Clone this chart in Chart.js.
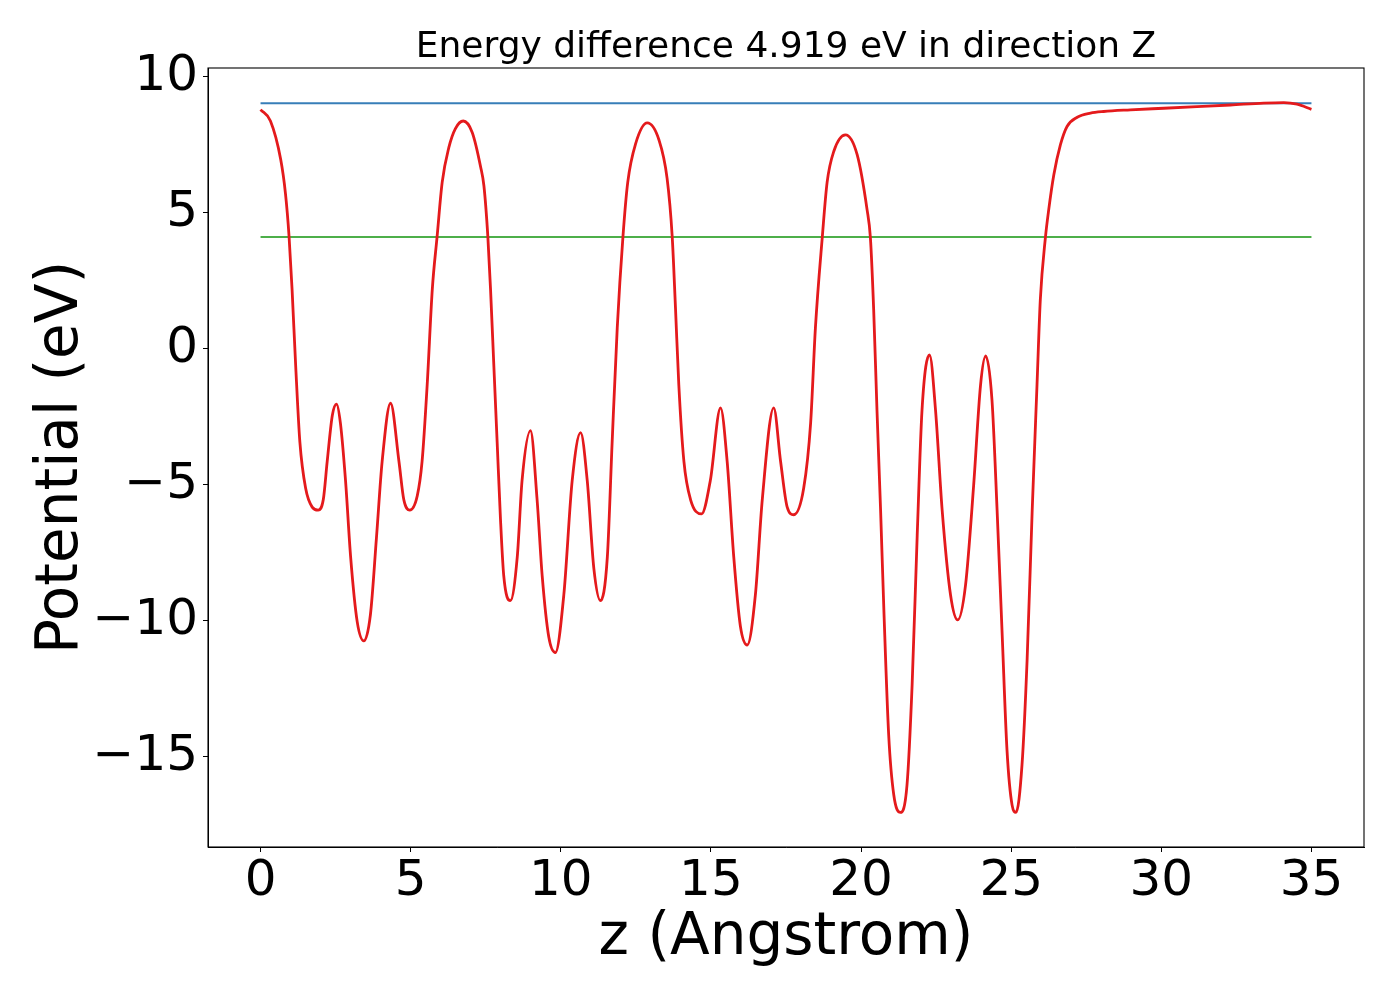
<!DOCTYPE html>
<html>
<head>
<meta charset="utf-8">
<script src="https://cdn.jsdelivr.net/npm/chart.js@4"></script>
<style>
  body { margin: 0; background: #fff; }
  canvas { display: block; }
</style>
</head>
<body>
<canvas id="potChart" width="1400" height="1000"></canvas>
<script>
// z positions (Angstrom) and the averaged potential (eV)
var zAngstrom = [0.00, 0.33, 0.67, 0.83, 0.95, 1.05, 1.17, 1.31, 1.50, 1.72, 1.92, 2.09, 2.22, 2.39, 2.53, 2.66, 2.83, 3.00, 3.22, 3.44, 3.66, 3.86, 4.05, 4.33, 4.61, 4.77, 4.97, 5.22, 5.38, 5.55, 5.72, 5.88, 6.05, 6.27, 6.49, 6.75, 7.05, 7.33, 7.44, 7.57, 7.66, 7.77, 7.88, 7.99, 8.10, 8.32, 8.55, 8.71, 8.99, 9.21, 9.38, 9.60, 9.82, 10.10, 10.38, 10.66, 10.88, 11.10, 11.32, 11.55, 11.71, 11.88, 12.07, 12.23, 12.49, 12.88, 13.27, 13.54, 13.71, 13.82, 13.93, 14.10, 14.32, 14.69, 14.98, 15.32, 15.54, 15.76, 15.98, 16.21, 16.48, 16.71, 17.09, 17.32, 17.54, 17.76, 18.09, 18.32, 18.48, 18.71, 18.87, 19.09, 19.48, 19.87, 20.20, 20.31, 20.42, 20.53, 20.65, 20.76, 20.92, 21.09, 21.31, 21.53, 21.70, 21.87, 22.03, 22.28, 22.48, 22.70, 22.98, 23.22, 23.48, 23.75, 23.98, 24.15, 24.36, 24.53, 24.70, 24.86, 25.03, 25.16, 25.36, 25.53, 25.70, 25.86, 25.97, 26.14, 26.25, 26.42, 26.64, 26.86, 27.20, 27.64, 28.08, 28.97, 30.08, 31.19, 32.30, 33.41, 34.08, 34.52, 35.00];
var potentialEV = [8.80, 8.38, 6.97, 5.71, 4.13, 2.19, -0.62, -3.43, -5.12, -5.82, -5.93, -5.54, -4.14, -2.45, -2.03, -2.73, -4.84, -7.65, -10.04, -10.74, -9.77, -6.95, -4.14, -2.00, -4.14, -5.54, -5.93, -5.40, -4.14, -1.32, 2.19, 4.13, 6.13, 7.40, 8.10, 8.38, 7.96, 6.69, 5.99, 4.13, 2.19, -0.62, -3.43, -6.24, -8.35, -9.26, -7.65, -4.84, -3.01, -5.54, -8.35, -10.60, -11.17, -9.05, -4.84, -3.08, -4.84, -8.07, -9.26, -7.65, -3.43, 0.78, 4.13, 6.13, 7.54, 8.31, 7.68, 6.27, 4.13, 1.49, -1.32, -4.14, -5.54, -6.07, -4.84, -2.17, -4.14, -7.65, -10.19, -10.89, -9.05, -5.54, -2.17, -4.14, -5.82, -6.10, -5.12, -2.73, 0.78, 4.13, 6.13, 7.26, 7.87, 7.14, 5.12, 4.10, 1.44, -2.25, -5.92, -9.61, -14.20, -16.41, -17.05, -16.04, -12.37, -6.85, -2.25, -0.22, -2.25, -5.92, -9.05, -9.97, -8.68, -5.01, -1.32, -0.26, -1.88, -5.92, -10.52, -14.75, -16.78, -17.05, -15.30, -11.44, -5.92, -1.32, 1.81, 4.10, 5.12, 6.40, 7.51, 8.18, 8.52, 8.67, 8.73, 8.79, 8.85, 8.91, 8.97, 9.04, 9.06, 9.00, 8.81];

// horizontal reference levels
var levelSpan = [0, 35];
var vacuumLevel = 9.03;
var fermiLevel = 4.11;

var xTicks = [0, 5, 10, 15, 20, 25, 30, 35];
var yTicks = [-15, -10, -5, 0, 5, 10];

var titleText = 'Energy difference 4.919 eV in direction Z';

var FONT = 'DejaVu Sans';

var redPoints = zAngstrom.map(function (z, i) { return { x: z, y: potentialEV[i] }; });
var vacPoints = levelSpan.map(function (z) { return { x: z, y: vacuumLevel }; });
var fermiPoints = levelSpan.map(function (z) { return { x: z, y: fermiLevel }; });

function minusSign(v) {
	return v < 0 ? '\u2212' + Math.abs(v) : String(v);
}

// matplotlib style box around the axes
var frame = {
	id: 'frame',
	afterDraw: function (chart) {
		var a = chart.chartArea, c = chart.ctx;
		c.save();
		c.strokeStyle = '#000';
		c.lineWidth = 1.1;
		c.strokeRect(a.left, a.top, a.right - a.left, a.bottom - a.top);
		c.restore();
	}
};

var ctx = document.getElementById('potChart').getContext('2d');

var chart = new Chart(ctx, {
	type: 'line',
	data: {
		datasets: [
			{
				data: redPoints,
				borderColor: '#e41a1c',
				borderWidth: 2.8,
				pointRadius: 0,
				cubicInterpolationMode: 'monotone',
				fill: false
			},
			{
				data: vacPoints,
				borderColor: '#377eb8',
				borderWidth: 2,
				pointRadius: 0,
				fill: false
			},
			{
				data: fermiPoints,
				borderColor: '#4daf4a',
				borderWidth: 2,
				pointRadius: 0,
				fill: false
			}
		]
	},
	options: {
		responsive: false,
		devicePixelRatio: 1,
		animation: false,
		layout: { padding: { left: 0, right: 36, top: 0, bottom: 0 } },
		plugins: {
			legend: { display: false },
			tooltip: { enabled: false },
			title: {
				display: true,
				text: titleText,
				fullSize: false,
				color: '#000',
				font: { family: FONT, size: 36, weight: 'normal', lineHeight: 1 },
				padding: { top: 30, bottom: 2 }
			}
		},
		scales: {
			x: {
				type: 'linear',
				min: -1.75,
				max: 36.75,
				afterBuildTicks: function (s) { s.ticks = xTicks.map(function (v) { return { value: v }; }); },
				afterFit: function (s) { s.height = 153; },
				grid: { drawOnChartArea: false, drawTicks: true, tickLength: 5, tickColor: '#000' },
				border: { display: true, color: '#000', width: 1 },
				ticks: {
					autoSkip: false,
					maxRotation: 0,
					padding: 0,
					color: '#000',
					font: { family: FONT, size: 50 },
					callback: function (v) { return minusSign(v); }
				},
				title: {
					display: true,
					text: 'z (Angstrom)',
					color: '#000',
					font: { family: FONT, size: 58 },
					padding: { top: 0, bottom: 26 }
				}
			},
			y: {
				type: 'linear',
				min: -18.32,
				max: 10.33,
				afterBuildTicks: function (s) { s.ticks = yTicks.map(function (v) { return { value: v }; }); },
				afterFit: function (s) { s.width = 208; },
				grid: { drawOnChartArea: false, drawTicks: true, tickLength: 5, tickColor: '#000' },
				border: { display: true, color: '#000', width: 1 },
				ticks: {
					autoSkip: false,
					padding: 5,
					color: '#000',
					font: { family: FONT, size: 50 },
					callback: function (v) { return minusSign(v); }
				},
				title: {
					display: true,
					text: 'Potential (eV)',
					color: '#000',
					font: { family: FONT, size: 58 },
					padding: { top: 27, bottom: 0 }
				}
			}
		}
	},
	plugins: [frame]
});
</script>
</body>
</html>
